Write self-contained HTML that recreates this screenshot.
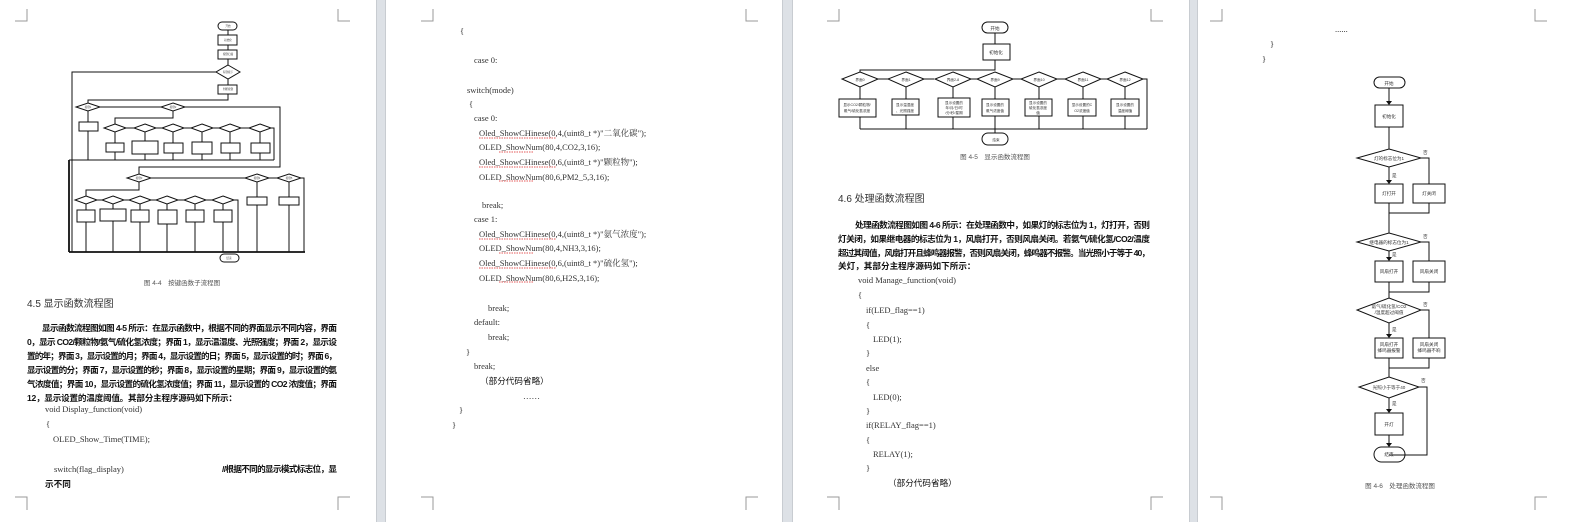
<!DOCTYPE html>
<html><head><meta charset="utf-8"><style>
html,body{margin:0;padding:0;background:#dde1e6;}
svg{display:block}
text{font-family:"Liberation Serif","Noto Serif CJK SC","Noto Sans CJK SC",serif;fill:#222}
.cn{font-family:"Liberation Sans","Noto Sans CJK SC",sans-serif;font-size:8.6px;fill:#111;font-weight:bold}
.code{font-size:8.5px;fill:#333}
.t{font-family:"Liberation Sans","Noto Sans CJK SC",sans-serif;font-size:3.6px;fill:#333}
.t5{font-family:"Liberation Sans","Noto Sans CJK SC",sans-serif;font-size:4.6px;fill:#333}
.t3{font-family:"Liberation Sans","Noto Sans CJK SC",sans-serif;font-size:2.6px;fill:#444}
.cap{font-family:"Liberation Sans","Noto Sans CJK SC",sans-serif;font-size:6.5px;fill:#555}
.h{font-family:"Liberation Sans","Noto Sans CJK SC",sans-serif;font-size:10px;fill:#333}
.l{stroke:#111;fill:none;stroke-width:1}
.s{stroke:#111;fill:#fff;stroke-width:1}
.m{stroke:#999;fill:none;stroke-width:1}
</style></head><body>
<svg width="1570" height="522" viewBox="0 0 1570 522" xmlns="http://www.w3.org/2000/svg">
<rect x="0" y="0" width="1570" height="522" fill="#dde1e6"/>
<rect x="0" y="0" width="376" height="522" fill="#fff"/>
<rect x="386" y="0" width="396" height="522" fill="#fff"/>
<rect x="793" y="0" width="396" height="522" fill="#fff"/>
<rect x="1198" y="0" width="372" height="522" fill="#fff"/>
<line x1="376.5" y1="0" x2="376.5" y2="522" stroke="#c8ccd1"/>
<line x1="385.5" y1="0" x2="385.5" y2="522" stroke="#c8ccd1"/>
<line x1="782.5" y1="0" x2="782.5" y2="522" stroke="#c8ccd1"/>
<line x1="792.5" y1="0" x2="792.5" y2="522" stroke="#c8ccd1"/>
<line x1="1189.5" y1="0" x2="1189.5" y2="522" stroke="#c8ccd1"/>
<line x1="1197.5" y1="0" x2="1197.5" y2="522" stroke="#c8ccd1"/>

<path class="m" d="M15 21H27V9 M338 9V21H350 M15 497H27V510 M350 497H338V510"/>
<path class="m" d="M421 21H433V9 M746 9V21H758 M421 497H433V510 M758 497H746V510"/>
<path class="m" d="M827 21H839V9 M1151 9V21H1163 M827 497H839V510 M1163 497H1151V510"/>
<path class="m" d="M1210 21H1222V9 M1535 9V21H1547 M1210 497H1222V510 M1547 497H1535V510"/>

<!-- ===== PAGE 1 flowchart ===== -->
<g>
<rect class="s" x="218" y="22" width="19" height="8" rx="4"/>
<rect class="s" x="218" y="35" width="19" height="10"/>
<rect class="s" x="218" y="50" width="19" height="9"/>
<polygon class="s" points="228,65 240,72 228,79 216,72"/>
<rect class="s" x="218" y="85" width="19" height="9"/>
<path class="l" d="M228 30V35 M228 45V50 M228 59V65 M228 79V85 M228 94V100H88V103 M216 72H72V252"/>
<path class="l" d="M100 107H162 M185 107H280V167H139V174"/>
<polygon class="s" points="88,103 100,107 88,111 76,107"/>
<polygon class="s" points="173,103 185,107 173,111 161,107"/>
<path class="l" d="M88 111V122 M88 131V160 M173 111V118H115V124"/>
<rect class="s" x="79" y="122" width="19" height="9"/>
<path class="l" d="M126 128H134 M156 128H162 M184 128H191 M213 128H219 M241 128H249 M271 128H274V160 M69 160H274"/>
<polygon class="s" points="115,124 126,128 115,132 104,128"/>
<polygon class="s" points="145,124 156,128 145,132 134,128"/>
<polygon class="s" points="173,124 184,128 173,132 162,128"/>
<polygon class="s" points="202,124 213,128 202,132 191,128"/>
<polygon class="s" points="230,124 241,128 230,132 219,128"/>
<polygon class="s" points="260,124 271,128 260,132 249,128"/>
<path class="l" d="M115 132V160 M145 132V160 M173 132V160 M202 132V160 M230 132V160 M260 132V160"/>
<rect class="s" x="106" y="143" width="18" height="9"/>
<rect class="s" x="132" y="141" width="26" height="13" stroke-width="1.5"/>
<rect class="s" x="164" y="143" width="19" height="10"/>
<rect class="s" x="192" y="142" width="20" height="12"/>
<rect class="s" x="221" y="143" width="19" height="10"/>
<rect class="s" x="251" y="143" width="19" height="10"/>
<path class="l" d="M151 178H245 M269 178H277 M301 178H304V252"/>
<polygon class="s" points="139,174 151,178 139,182 127,178"/>
<polygon class="s" points="257,174 269,178 257,182 245,178"/>
<polygon class="s" points="289,174 301,178 289,182 277,178"/>
<path class="l" d="M139 182V190H86V196 M257 182V197 M257 205V252 M289 182V197 M289 205V252"/>
<rect class="s" x="247" y="197" width="20" height="8"/>
<rect class="s" x="279" y="197" width="20" height="8"/>
<path class="l" d="M97 200H102 M124 200H129 M151 200H156 M178 200H184 M206 200H212 M234 200H238V252"/>
<polygon class="s" points="86,196 97,200 86,204 75,200"/>
<polygon class="s" points="113,196 124,200 113,204 102,200"/>
<polygon class="s" points="140,196 151,200 140,204 129,200"/>
<polygon class="s" points="167,196 178,200 167,204 156,200"/>
<polygon class="s" points="195,196 206,200 195,204 184,200"/>
<polygon class="s" points="223,196 234,200 223,204 212,200"/>
<path class="l" d="M86 204V252 M113 204V252 M140 204V252 M167 204V252 M195 204V252 M223 204V252"/>
<rect class="s" x="77" y="210" width="18" height="12"/>
<rect class="s" x="100" y="209" width="26" height="12" stroke-width="1.5"/>
<rect class="s" x="131" y="210" width="18" height="12"/>
<rect class="s" x="158" y="210" width="19" height="14" stroke-width="1.5"/>
<rect class="s" x="186" y="210" width="18" height="12"/>
<rect class="s" x="214" y="210" width="18" height="12"/>
<path d="M69 252H305" stroke="#111" stroke-width="1.8"/>
<path d="M69 160V252" stroke="#111" stroke-width="1.8"/>
<rect class="s" x="220" y="254" width="19" height="8" rx="4"/>
<text class="t3" x="228" y="27" text-anchor="middle">开始</text>
<text class="t3" x="228" y="41" text-anchor="middle">初始化</text>
<text class="t3" x="228" y="55" text-anchor="middle">按键扫描</text>
<text class="t3" x="228" y="73" text-anchor="middle">有键按下</text>
<text class="t3" x="228" y="90" text-anchor="middle">判断按键</text>
<text class="t3" x="88" y="108" text-anchor="middle">按键1</text>
<text class="t3" x="173" y="108" text-anchor="middle">按键2</text>
<text class="t3" x="139" y="179" text-anchor="middle">按键3</text>
<text class="t3" x="257" y="179" text-anchor="middle">按键4</text>
<text class="t3" x="289" y="179" text-anchor="middle">按键5</text>
<text class="t3" x="229" y="259" text-anchor="middle">结束</text>
</g>
<text class="cap" x="182" y="285" text-anchor="middle">图 4-4　按键函数子流程图</text>
<text class="h" x="27" y="307">4.5 显示函数流程图</text>
<text class="cn" x="42" y="331" textLength="295">显示函数流程图如图 4-5 所示：在显示函数中，根据不同的界面显示不同内容，界面</text>
<text class="cn" x="27" y="345" textLength="310">0，显示 CO2/颗粒物/氨气/硫化氢浓度；界面 1，显示温湿度、光照强度；界面 2，显示设</text>
<text class="cn" x="27" y="359" textLength="310">置的年；界面 3，显示设置的月；界面 4，显示设置的日；界面 5，显示设置的时；界面 6，</text>
<text class="cn" x="27" y="373" textLength="310">显示设置的分；界面 7，显示设置的秒；界面 8，显示设置的星期；界面 9，显示设置的氨</text>
<text class="cn" x="27" y="387" textLength="310">气浓度值；界面 10，显示设置的硫化氢浓度值；界面 11，显示设置的 CO2 浓度值；界面</text>
<text class="cn" x="27" y="401" textLength="210">12，显示设置的温度阈值。其部分主程序源码如下所示：</text>
<text class="code" x="45" y="412">void Display_function(void)</text>
<text class="code" x="46" y="427">{</text>
<text class="code" x="53" y="442">OLED_Show_Time(TIME);</text>
<text class="code" x="54" y="472">switch(flag_display)</text>
<text class="cn" x="222" y="472" textLength="115">//根据不同的显示模式标志位，显</text>
<text class="cn" x="45" y="487">示不同</text>

<!-- ===== PAGE 2 code ===== -->
<text class="code" x="460" y="34">{</text>
<text class="code" x="474" y="63">case 0:</text>
<text class="code" x="467" y="93">switch(mode)</text>
<text class="code" x="469" y="107">{</text>
<text class="code" x="474" y="121">case 0:</text>
<text class="code" x="479" y="136">Oled_ShowCHinese(0,4,(uint8_t *)"二氧化碳");</text>
<text class="code" x="479" y="150">OLED_ShowNum(80,4,CO2,3,16);</text>
<text class="code" x="479" y="165">Oled_ShowCHinese(0,6,(uint8_t *)"颗粒物");</text>
<text class="code" x="479" y="180">OLED_ShowNum(80,6,PM2_5,3,16);</text>
<text class="code" x="482" y="208">break;</text>
<text class="code" x="474" y="222">case 1:</text>
<text class="code" x="479" y="237">Oled_ShowCHinese(0,4,(uint8_t *)"氨气浓度");</text>
<text class="code" x="479" y="251">OLED_ShowNum(80,4,NH3,3,16);</text>
<text class="code" x="479" y="266">Oled_ShowCHinese(0,6,(uint8_t *)"硫化氢");</text>
<text class="code" x="479" y="281">OLED_ShowNum(80,6,H2S,3,16);</text>
<text class="code" x="488" y="311">break;</text>
<text class="code" x="474" y="325">default:</text>
<text class="code" x="488" y="340">break;</text>
<text class="code" x="466" y="355">}</text>
<text class="code" x="474" y="369">break;</text>
<text class="cn" x="480" y="384" style="font-weight:normal">（部分代码省略）</text>
<text class="code" x="523" y="399">……</text>
<text class="code" x="459" y="413">}</text>
<text class="code" x="452" y="428">}</text>
<path d="M479 138h77M479 167h77M479 239h77M479 268h77M499 152h34M499 181h34M499 253h34M499 282h34" stroke="#d22" stroke-width="0.7" stroke-dasharray="1.5,1"/>

<!-- ===== PAGE 3 flowchart ===== -->
<g>
<rect class="s" x="982" y="22" width="26" height="11" rx="5.5"/>
<rect class="s" x="983" y="44" width="27" height="16"/>
<path class="l" d="M995 33V44 M995 60V70H860V72"/>
<path class="l" d="M878 79H888 M924 79H934 M971 79H977 M1013 79H1021 M1057 79H1065 M1101 79H1107 M1143 79H1147V129"/>
<polygon class="s" points="860,72 878,79 860,87 842,79"/>
<polygon class="s" points="906,72 924,79 906,87 888,79"/>
<polygon class="s" points="953,72 971,79 953,87 935,79"/>
<polygon class="s" points="995,72 1013,79 995,87 977,79"/>
<polygon class="s" points="1039,72 1057,79 1039,87 1021,79"/>
<polygon class="s" points="1083,72 1101,79 1083,87 1065,79"/>
<polygon class="s" points="1125,72 1143,79 1125,87 1107,79"/>
<path class="l" d="M860 87V129 M906 87V129 M953 87V129 M995 87V133 M1039 87V129 M1083 87V129 M1125 87V129 M860 129H1147"/>
<rect class="s" x="839" y="99" width="37" height="18"/>
<rect class="s" x="892" y="99" width="27" height="16"/>
<rect class="s" x="938" y="98" width="32" height="19"/>
<rect class="s" x="982" y="99" width="27" height="17"/>
<rect class="s" x="1025" y="99" width="27" height="17"/>
<rect class="s" x="1068" y="99" width="28" height="17"/>
<rect class="s" x="1111" y="99" width="28" height="17"/>
<rect class="s" x="982" y="133" width="26" height="12" rx="6"/>
<text class="t5" x="995" y="30" text-anchor="middle">开始</text>
<text class="t5" x="996" y="54" text-anchor="middle">初始化</text>
<text class="t" x="860" y="81" text-anchor="middle">界面0</text>
<text class="t" x="906" y="81" text-anchor="middle">界面1</text>
<text class="t" x="953" y="81" text-anchor="middle">界面2-8</text>
<text class="t" x="995" y="81" text-anchor="middle">界面9</text>
<text class="t" x="1039" y="81" text-anchor="middle">界面10</text>
<text class="t" x="1083" y="81" text-anchor="middle">界面11</text>
<text class="t" x="1125" y="81" text-anchor="middle">界面12</text>
<text class="t" x="857" y="106" text-anchor="middle">显示CO2/颗粒物/</text><text class="t" x="857" y="112" text-anchor="middle">氨气/硫化氢浓度</text>
<text class="t" x="905" y="106" text-anchor="middle">显示温湿度</text><text class="t" x="905" y="112" text-anchor="middle">、光照强度</text>
<text class="t" x="954" y="104" text-anchor="middle">显示设置的</text><text class="t" x="954" y="109" text-anchor="middle">年/月/日/时</text><text class="t" x="954" y="114" text-anchor="middle">/分/秒/星期</text>
<text class="t" x="995" y="106" text-anchor="middle">显示设置的</text><text class="t" x="995" y="112" text-anchor="middle">氨气浓度值</text>
<text class="t" x="1038" y="104" text-anchor="middle">显示设置的</text><text class="t" x="1038" y="109" text-anchor="middle">硫化氢浓度</text><text class="t" x="1038" y="114" text-anchor="middle">值</text>
<text class="t" x="1082" y="106" text-anchor="middle">显示设置的C</text><text class="t" x="1082" y="112" text-anchor="middle">O2浓度值</text>
<text class="t" x="1125" y="106" text-anchor="middle">显示设置的</text><text class="t" x="1125" y="112" text-anchor="middle">温度阈值</text>
<text class="t" x="996" y="141" text-anchor="middle">结束</text>
</g>
<text class="cap" x="995" y="159" text-anchor="middle">图 4-5　显示函数流程图</text>
<text class="h" x="838" y="202">4.6 处理函数流程图</text>
<text class="cn" x="855" y="228" textLength="295">处理函数流程图如图 4-6 所示：在处理函数中，如果灯的标志位为 1，灯打开，否则</text>
<text class="cn" x="838" y="242" textLength="312">灯关闭，如果继电器的标志位为 1，风扇打开，否则风扇关闭。若氨气/硫化氢/CO2/温度</text>
<text class="cn" x="838" y="256" textLength="312">超过其阈值，风扇打开且蜂鸣器报警，否则风扇关闭，蜂鸣器不报警。当光照小于等于 40，</text>
<text class="cn" x="838" y="269">关灯，其部分主程序源码如下所示：</text>
<text class="code" x="858" y="283">void Manage_function(void)</text>
<text class="code" x="858" y="298">{</text>
<text class="code" x="866" y="313">if(LED_flag==1)</text>
<text class="code" x="866" y="328">{</text>
<text class="code" x="873" y="342">LED(1);</text>
<text class="code" x="866" y="356">}</text>
<text class="code" x="866" y="371">else</text>
<text class="code" x="866" y="385">{</text>
<text class="code" x="873" y="400">LED(0);</text>
<text class="code" x="866" y="414">}</text>
<text class="code" x="866" y="428">if(RELAY_flag==1)</text>
<text class="code" x="866" y="443">{</text>
<text class="code" x="873" y="457">RELAY(1);</text>
<text class="code" x="866" y="471">}</text>
<text class="cn" x="888" y="486" style="font-weight:normal">（部分代码省略）</text>

<!-- ===== PAGE 4 ===== -->
<text class="code" x="1335" y="32">......</text>
<text class="code" x="1270" y="47">}</text>
<text class="code" x="1262" y="62">}</text>
<g>
<rect class="s" x="1374" y="77" width="31" height="11" rx="5.5"/>
<rect class="s" x="1375" y="105" width="28" height="22"/>
<polygon class="s" points="1389,149 1421,158 1389,167 1357,158"/>
<rect class="s" x="1375" y="184" width="28" height="19"/>
<rect class="s" x="1413" y="184" width="32" height="19"/>
<polygon class="s" points="1389,233 1421,242 1389,251 1357,242"/>
<rect class="s" x="1375" y="261" width="28" height="21"/>
<rect class="s" x="1413" y="261" width="32" height="21"/>
<polygon class="s" points="1389,298 1421,310 1389,323 1357,310"/>
<rect class="s" x="1375" y="338" width="28" height="20"/>
<rect class="s" x="1413" y="338" width="32" height="20"/>
<polygon class="s" points="1389,377 1419,387 1389,398 1359,387"/>
<rect class="s" x="1375" y="413" width="28" height="22"/>
<rect class="s" x="1374" y="447" width="31" height="15" rx="7.5"/>
<path class="l" d="M1389 88V105 M1389 127V149 M1389 167V184 M1421 158H1429V184 M1389 203V233 M1429 203V213H1389 M1389 251V261 M1421 242H1429V261 M1389 282V298 M1429 282V292H1389 M1389 323V338 M1421 310H1429V338 M1389 358V377 M1429 358V368H1389 M1389 398V413 M1389 435V447 M1419 387H1427V455H1389"/>
<path d="M1386 101l3 4 3-4z M1386 180l3 4 3-4z M1386 257l3 4 3-4z M1386 334l3 4 3-4z M1386 409l3 4 3-4z M1386 443l3 4 3-4z" fill="#111"/>
<text class="t5" x="1389" y="85" text-anchor="middle">开始</text>
<text class="t5" x="1389" y="118" text-anchor="middle">初始化</text>
<text class="t5" x="1389" y="160" text-anchor="middle">灯的标志位为1</text>
<text class="t5" x="1423" y="154">否</text><text class="t5" x="1392" y="177">是</text>
<text class="t5" x="1389" y="195" text-anchor="middle">灯打开</text>
<text class="t5" x="1429" y="195" text-anchor="middle">灯关闭</text>
<text class="t5" x="1389" y="244" text-anchor="middle">继电器的标志位为1</text>
<text class="t5" x="1423" y="238">否</text><text class="t5" x="1392" y="256">是</text>
<text class="t5" x="1389" y="273" text-anchor="middle">风扇打开</text>
<text class="t5" x="1429" y="273" text-anchor="middle">风扇关闭</text>
<text class="t5" x="1389" y="308" text-anchor="middle">氨气/硫化氢/CO2</text>
<text class="t5" x="1389" y="314" text-anchor="middle">/温度超过阈值</text>
<text class="t5" x="1423" y="306">否</text><text class="t5" x="1392" y="331">是</text>
<text class="t5" x="1389" y="346" text-anchor="middle">风扇打开</text>
<text class="t5" x="1389" y="352" text-anchor="middle">蜂鸣器报警</text>
<text class="t5" x="1429" y="346" text-anchor="middle">风扇关闭</text>
<text class="t5" x="1429" y="352" text-anchor="middle">蜂鸣器不响</text>
<text class="t5" x="1389" y="389" text-anchor="middle">光照小于等于40</text>
<text class="t5" x="1421" y="382">否</text><text class="t5" x="1392" y="405">是</text>
<text class="t5" x="1389" y="426" text-anchor="middle">开灯</text>
<text class="t5" x="1389" y="456" text-anchor="middle">结束</text>
</g>
<text class="cap" x="1400" y="488" text-anchor="middle">图 4-6　处理函数流程图</text>
</svg>
</body></html>
